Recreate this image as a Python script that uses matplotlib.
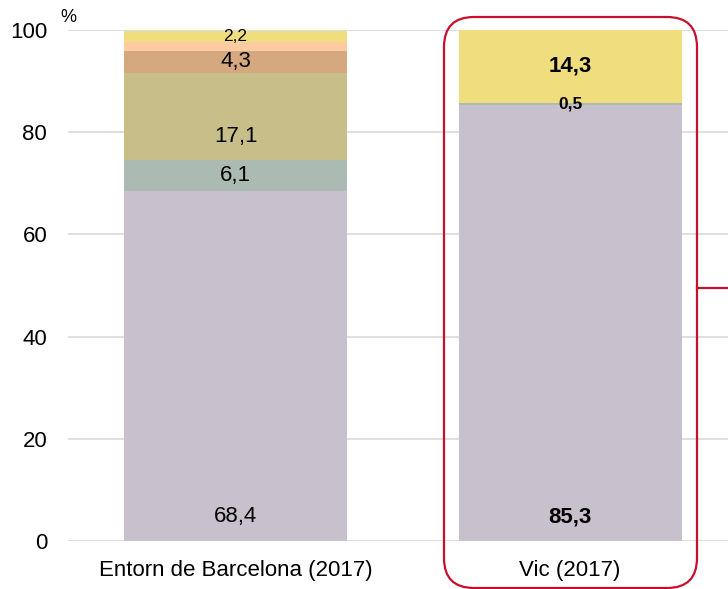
import matplotlib
matplotlib.use("Agg")
import matplotlib.pyplot as plt
from matplotlib.patches import FancyBboxPatch
from matplotlib.lines import Line2D
from matplotlib.transforms import IdentityTransform

categories = ["Entorn de Barcelona (2017)", "Vic (2017)"]

# segments bottom -> top
seg_colors = ["#c8c0cc", "#abbab2", "#c8be8a", "#d6a880", "#fdcba2", "#f0de7e"]
barcelona = [68.4, 6.1, 17.1, 4.3, 1.7, 2.2]
vic = [85.3, 0.5, 0, 0, 0, 14.3]

bcn_labels = ["68,4", "6,1", "17,1", "4,3", "", "2,2"]
vic_labels = ["85,3", "0,5", "", "", "", "14,3"]
# where the label sits: "base" = near bottom of the segment, "center" = middle
bcn_pos = ["base", "center", "base", "center", "center", "center"]
vic_pos = ["base", "center", "center", "center", "center", "center"]

FONT = "Liberation Sans"

fig = plt.figure(figsize=(7.28, 5.89), dpi=100)
ax = fig.add_axes([68 / 728, 48 / 589, 660 / 728, 511 / 589])

x = [0, 1]
width = 0.667
bottoms = [0, 0]
for i, col in enumerate(seg_colors):
    vals = [barcelona[i], vic[i]]
    ax.bar(x, vals, width=width, bottom=bottoms, color=col, zorder=2)
    for j, (v, lab, pos, bold) in enumerate(
        [(barcelona[i], bcn_labels[i], bcn_pos[i], False),
         (vic[i], vic_labels[i], vic_pos[i], True)]):
        if lab:
            if pos == "base":
                ypos = bottoms[j] + 4.7
            else:
                ypos = bottoms[j] + v / 2
            fs = 16
            if lab in ("2,2", "0,5"):
                fs = 12.5
            ax.text(x[j], ypos, lab, ha="center", va="center", fontsize=fs,
                    fontweight="bold" if bold else "normal", color="black",
                    family=FONT, zorder=3)
    bottoms = [bottoms[0] + vals[0], bottoms[1] + vals[1]]

ax.set_xlim(-0.5007, 1.472)
ax.set_ylim(0, 100)
ax.set_yticks([0, 20, 40, 60, 80, 100])
ax.set_xticks(x)
ax.set_xticklabels(categories)
ax.grid(axis="y", color="#d9d9d9", linewidth=1.2, zorder=0)
ax.set_axisbelow(True)
for s in ax.spines.values():
    s.set_visible(False)
ax.tick_params(axis="both", length=0, labelsize=16)
ax.tick_params(axis="y", pad=15)
ax.tick_params(axis="x", pad=14)
for t in ax.get_xticklabels() + ax.get_yticklabels():
    t.set_family(FONT)

fig.text(68 / 728, 1 - 17 / 589, "%", fontsize=13, ha="center", va="center",
         family=FONT)

# red rounded frame around Vic
frame = FancyBboxPatch((444, 1), 253, 571,
                       boxstyle="round,pad=0,rounding_size=30",
                       transform=IdentityTransform(), fill=False,
                       edgecolor="#c8102e", linewidth=1.6)
fig.patches.append(frame)
fig.lines.append(Line2D([697, 728], [301, 301], transform=IdentityTransform(),
                        color="#c8102e", linewidth=1.6))

fig.savefig("out.png", dpi=100)
